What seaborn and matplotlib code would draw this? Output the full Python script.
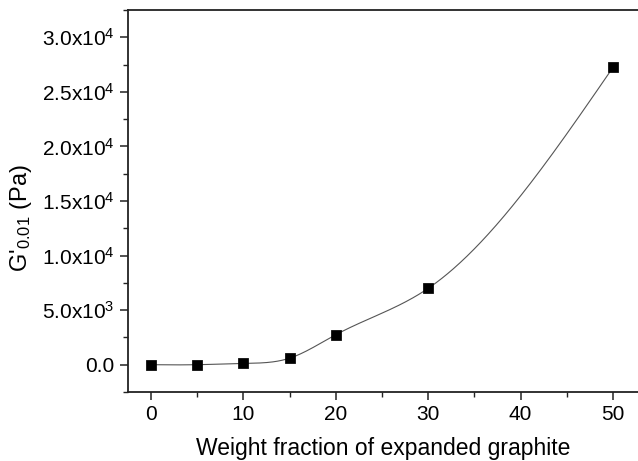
import numpy as np
import pandas as pd
import seaborn as sns
import matplotlib.pyplot as plt
from matplotlib.ticker import MultipleLocator, FuncFormatter

# data
fraction = [0, 5, 10, 15, 20, 30, 50]
modulus = [0, 0, 120, 600, 2750, 7000, 27250]


def natural_spline(x, y, xs):
    """Natural cubic spline through the points (like Origin's spline connector)."""
    x = np.asarray(x, float)
    y = np.asarray(y, float)
    n = len(x)
    h = np.diff(x)
    A = np.zeros((n, n))
    b = np.zeros(n)
    A[0, 0] = A[-1, -1] = 1
    for i in range(1, n - 1):
        A[i, i - 1] = h[i - 1]
        A[i, i] = 2 * (h[i - 1] + h[i])
        A[i, i + 1] = h[i]
        b[i] = 6 * ((y[i + 1] - y[i]) / h[i] - (y[i] - y[i - 1]) / h[i - 1])
    m = np.linalg.solve(A, b)
    idx = np.clip(np.searchsorted(x, xs) - 1, 0, n - 2)
    t = xs - x[idx]
    hi = h[idx]
    a = (m[idx + 1] - m[idx]) / (6 * hi)
    bb = m[idx] / 2
    c = (y[idx + 1] - y[idx]) / hi - hi * (2 * m[idx] + m[idx + 1]) / 6
    return y[idx] + c * t + bb * t ** 2 + a * t ** 3


df = pd.DataFrame({"x": fraction, "y": modulus})
xs = np.linspace(fraction[0], fraction[-1], 400)
curve = pd.DataFrame({"x": xs, "y": natural_spline(fraction, modulus, xs)})

sns.set_theme(style="ticks")
plt.rcParams["font.family"] = ["Liberation Sans", "DejaVu Sans"]
plt.rcParams["mathtext.fontset"] = "custom"
plt.rcParams["mathtext.rm"] = "Liberation Sans"
plt.rcParams["mathtext.it"] = "Liberation Sans"
plt.rcParams["text.color"] = "black"
plt.rcParams["axes.labelcolor"] = "black"
plt.rcParams["xtick.labelcolor"] = "black"
plt.rcParams["ytick.labelcolor"] = "black"

fig = plt.figure(figsize=(6.38, 4.61), dpi=100)
ax = fig.add_axes([0.2006, 0.1497, 0.7994, 0.8286])

sns.lineplot(data=curve, x="x", y="y", ax=ax, color="#555555", linewidth=0.8)
sns.scatterplot(data=df, x="x", y="y", ax=ax, marker="s", s=45, color="black",
                edgecolor="black", zorder=3)

ax.set_xlim(-2.5, 52.7)
ax.set_ylim(-2500, 32500)
ax.xaxis.set_major_locator(MultipleLocator(10))
ax.xaxis.set_minor_locator(MultipleLocator(5))
ax.yaxis.set_major_locator(MultipleLocator(5000))
ax.yaxis.set_minor_locator(MultipleLocator(2500))


def sci(v, pos):
    if v == 0:
        return "0.0"
    e = int(np.floor(np.log10(abs(v))))
    return r"%.1fx10$^{%d}$" % (v / 10 ** e, e)


ax.yaxis.set_major_formatter(FuncFormatter(sci))

for s in ["left", "bottom", "top"]:
    ax.spines[s].set_linewidth(1.3)
    ax.spines[s].set_color("#222222")
ax.spines["right"].set_visible(False)
ax.tick_params(axis="both", which="major", length=6, width=1.1, labelsize=15,
               direction="out", color="#222222")
ax.tick_params(axis="both", which="minor", length=3.5, width=1.0, direction="out",
               color="#222222")
ax.tick_params(top=False)

ax.set_xlabel("Weight fraction of expanded graphite", fontsize=16.5, labelpad=9)
ax.set_ylabel(r"G'$_{0.01}$ (Pa)", fontsize=17, labelpad=6)
ax.yaxis.set_label_coords(-0.185, 0.455)

fig.savefig("out.png", dpi=100)
